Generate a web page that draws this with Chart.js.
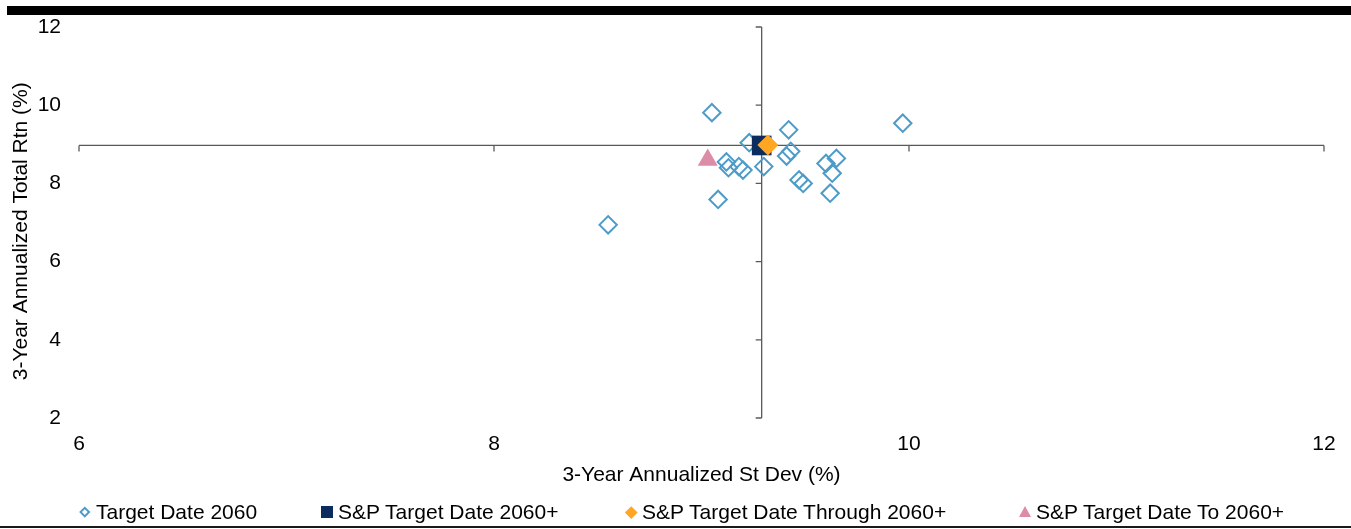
<!DOCTYPE html>
<html>
<head>
<meta charset="utf-8">
<title>Risk / Return — Target Date 2060</title>
<script src="https://cdn.jsdelivr.net/npm/chart.js@4/dist/chart.umd.min.js"></script>
<style>
  html, body { margin: 0; padding: 0; background: #fff; }
  #wrap { position: relative; width: 1351px; height: 529px; overflow: hidden;
          font-family: "Liberation Sans", Arial, sans-serif; }
  #topbar { position: absolute; left: 7px; top: 6px; width: 1344px; height: 9px; background: #000; }
  #rule { position: absolute; left: 0; top: 526px; width: 1351px; height: 2px; background: #1a1a1a; }
  #chartBox { position: absolute; left: 0; top: 0; width: 1351px; height: 529px; }
  #legend { position: absolute; left: 0; top: 500px; width: 1351px; height: 24px; }
  .item { position: absolute; top: 0; height: 24px; line-height: 24px; display: flex; align-items: center;
          font-size: 21px; color: #000; white-space: nowrap; }
  .mk { width: 12px; height: 12px; position: relative; margin-right: 5px; flex: none; }
  .mk i { position: absolute; display: block; box-sizing: border-box; }
</style>
</head>
<body>
<div id="wrap">
  <div id="topbar"></div>
  <div id="chartBox"><canvas id="chart" width="1351" height="529"></canvas></div>
  <div id="legend"></div>
  <div id="rule"></div>
</div>
<script>
// Series names
const seriesNames = [
  'Target Date 2060',
  'S&P Target Date 2060+',
  'S&P Target Date Through 2060+',
  'S&P Target Date To 2060+'
];

// Target Date 2060 funds: 3-yr annualized standard deviation and total return (%)
const tdStdDev = [9.05, 9.97, 9.42, 9.23, 9.43, 9.41, 9.12, 9.13, 9.18, 9.20, 9.30, 9.08, 8.55, 9.47, 9.49, 9.60, 9.65, 9.63, 9.62];
const tdReturn = [9.81, 9.54, 9.37, 9.04, 8.82, 8.70, 8.55, 8.40, 8.43, 8.34, 8.43, 7.59, 6.94, 8.09, 8.00, 8.51, 8.64, 8.26, 7.75];

// S&P benchmarks (2060+, Through 2060+, To 2060+)
const benchStdDev = [9.29, 9.32, 9.03];
const benchReturn = [8.97, 8.98, 8.60];

// Axis tick values
const xTicks = [6, 8, 10, 12];
const yTicks = [2, 4, 6, 8, 10, 12];

const toPoints = (xs, ys) => xs.map((x, i) => ({ x: x, y: ys[i] }));

const FONT = { family: '"Liberation Sans", Arial, sans-serif', size: 21 };

// Axes cross at the S&P Target Date 2060+ benchmark
const crossAxes = {
  id: 'crossAxes',
  beforeDatasetsDraw(chart) {
    const { ctx, scales: { x, y } } = chart;
    const x0 = x.getPixelForValue(benchStdDev[0]);
    const y0 = y.getPixelForValue(benchReturn[0]);
    ctx.save();
    ctx.strokeStyle = '#595959';
    ctx.lineWidth = 1.3;
    ctx.beginPath();
    ctx.moveTo(x.left, y0); ctx.lineTo(x.right, y0);
    ctx.moveTo(x0, y.top); ctx.lineTo(x0, y.bottom);
    x.ticks.forEach(t => {
      const px = x.getPixelForValue(t.value);
      ctx.moveTo(px, y0); ctx.lineTo(px, y0 + 6);
    });
    y.ticks.forEach(t => {
      const py = y.getPixelForValue(t.value);
      ctx.moveTo(x0 - 6, py); ctx.lineTo(x0, py);
    });
    ctx.stroke();
    ctx.restore();
  }
};

// Legend rendered as HTML from the chart's datasets
const legendLefts = [79, 321, 625, 1019];
const htmlLegend = {
  id: 'htmlLegend',
  afterUpdate(chart) {
    const box = document.getElementById('legend');
    box.innerHTML = '';
    chart.data.datasets.forEach((ds, i) => {
      const item = document.createElement('div');
      item.className = 'item';
      item.style.left = legendLefts[i] + 'px';
      const mk = document.createElement('span');
      mk.className = 'mk';
      const g = document.createElement('i');
      if (ds.pointStyle === 'rectRot') {
        const filled = ds.pointBackgroundColor !== 'rgba(0,0,0,0)';
        const side = filled ? 8.5 : 7.6;
        g.style.width = side + 'px'; g.style.height = side + 'px';
        g.style.left = (6 - side / 2) + 'px'; g.style.top = (6 - side / 2) + 'px';
        g.style.transform = 'rotate(45deg)';
        if (filled) g.style.background = ds.pointBackgroundColor;
        else g.style.border = '2px solid ' + ds.pointBorderColor;
      } else if (ds.pointStyle === 'rect') {
        g.style.width = '12px'; g.style.height = '12px';
        g.style.left = '0px'; g.style.top = '0px';
        g.style.background = ds.pointBackgroundColor;
      } else {
        g.style.width = '0px'; g.style.height = '0px';
        g.style.left = '-0.5px'; g.style.top = '0px';
        g.style.borderLeft = '6.5px solid transparent';
        g.style.borderRight = '6.5px solid transparent';
        g.style.borderBottom = '11px solid ' + ds.pointBackgroundColor;
      }
      mk.appendChild(g);
      const txt = document.createElement('span');
      txt.textContent = ds.label;
      item.appendChild(mk);
      item.appendChild(txt);
      box.appendChild(item);
    });
  }
};

new Chart(document.getElementById('chart'), {
  type: 'scatter',
  data: {
    datasets: [
      {
        label: seriesNames[0],
        data: toPoints(tdStdDev, tdReturn),
        pointStyle: 'rectRot',
        pointRadius: 8.7,
        pointHoverRadius: 8.7,
        pointBorderWidth: 2,
        pointBorderColor: '#4d9bc8',
        pointBackgroundColor: 'rgba(0,0,0,0)',
        order: 10
      },
      {
        label: seriesNames[1],
        data: toPoints(benchStdDev.slice(0, 1), benchReturn.slice(0, 1)),
        pointStyle: 'rect',
        pointRadius: 13.9,
        pointHoverRadius: 13.9,
        pointBorderWidth: 0,
        pointBorderColor: '#0b2c5c',
        pointBackgroundColor: '#0b2c5c',
        order: 3
      },
      {
        label: seriesNames[2],
        data: toPoints(benchStdDev.slice(1, 2), benchReturn.slice(1, 2)),
        pointStyle: 'rectRot',
        pointRadius: 10.5,
        pointHoverRadius: 10.5,
        pointBorderWidth: 0,
        pointBorderColor: '#ffa723',
        pointBackgroundColor: '#ffa723',
        order: 2
      },
      {
        label: seriesNames[3],
        data: toPoints(benchStdDev.slice(2, 3), benchReturn.slice(2, 3)),
        pointStyle: 'triangle',
        pointRadius: 11.5,
        pointHoverRadius: 11.5,
        pointBorderWidth: 0,
        pointBorderColor: '#dc8ca6',
        pointBackgroundColor: '#dc8ca6',
        order: 1
      }
    ]
  },
  options: {
    responsive: false,
    devicePixelRatio: 1,
    animation: false,
    layout: { padding: { top: 27, right: 27, bottom: 41, left: 0 } },
    plugins: {
      legend: { display: false },
      tooltip: { enabled: false }
    },
    scales: {
      x: {
        type: 'linear',
        position: 'bottom',
        min: 6, max: 12,
        grid: { display: false, drawTicks: false },
        border: { display: false },
        afterBuildTicks(s) { s.ticks = xTicks.map(v => ({ value: v })); },
        afterFit(s) { s.height = 70; },
        ticks: { padding: 14, color: '#000', font: FONT },
        title: {
          display: true, text: '3-Year Annualized St Dev (%)',
          color: '#000', font: FONT, padding: { top: 0, bottom: 0 }
        }
      },
      y: {
        type: 'linear',
        position: 'left',
        min: 2, max: 12,
        grid: { display: false, drawTicks: false },
        border: { display: false },
        afterBuildTicks(s) { s.ticks = yTicks.map(v => ({ value: v })); },
        afterFit(s) { s.width = 79; s.paddingTop = 0; s.paddingBottom = 0; },
        ticks: { padding: 18, color: '#000', font: FONT },
        title: {
          display: true, text: '3-Year Annualized Total Rtn (%)   ',
          color: '#000', font: FONT, padding: { top: 9, bottom: 0 }
        }
      }
    }
  },
  plugins: [crossAxes, htmlLegend]
});
</script>
</body>
</html>
